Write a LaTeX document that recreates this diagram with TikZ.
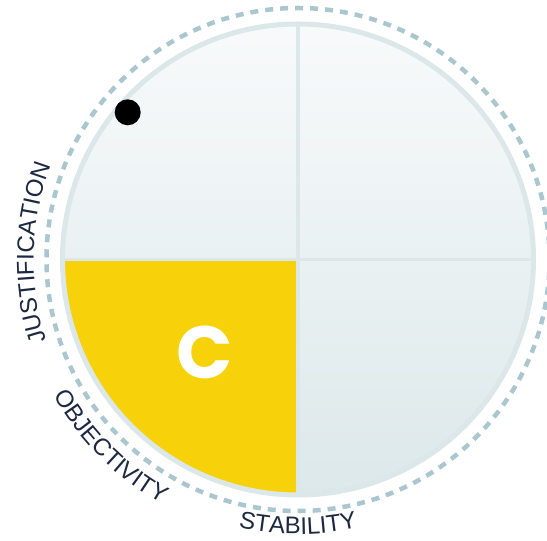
\documentclass[tikz,border=0pt]{standalone}
\usepackage{fontspec}
\setmainfont{Liberation Sans}
\newfontfamily\gradefont{Poppins}
\usetikzlibrary{calc,decorations.text}

\definecolor{ink}{RGB}{28,40,66}
\definecolor{ringline}{RGB}{219,231,233}
\definecolor{dashline}{RGB}{170,199,207}
\definecolor{quadtop}{RGB}{248,250,251}
\definecolor{quadbot}{RGB}{220,232,234}
\definecolor{sunny}{RGB}{247,209,10}

\begin{document}
\begin{tikzpicture}[
x=1pt, y=1pt,
divider/.style={
  draw=ringline,
  line width=3.5pt
  },
rim/.style={
  draw=ringline,
  line width=5pt
  },
orbit/.style={
  draw=dashline,
  line width=4.5pt,
  dash pattern=on 8pt off 7pt
  },
arclabel/.style={
  decorate,
  decoration={
    text along path,
    text={|\fontsize{24}{24}\selectfont\color{ink}|#1},
    text align=center
    }
  }
]
\useasboundingbox (0,0) rectangle (547,541);
\coordinate (c) at (298,281.5);

% background of the four quadrants
\begin{scope}
\clip (c) circle[radius=235];
\shade[top color=quadtop, bottom color=quadbot] ($(c)+(-240,-240)$) rectangle ($(c)+(240,240)$);
\draw[divider] ($(c)+(-240,0)$) -- ($(c)+(240,0)$);
\draw[divider] ($(c)+(0,-240)$) -- ($(c)+(0,240)$);
\fill[sunny] ($(c)+(-2,-2)$) rectangle ($(c)+(-240,-240)$);
\end{scope}

\draw[rim] (c) circle[radius=235.5];
\draw[orbit] (c) circle[radius=251.5];

% labels round the ring
\path[arclabel=JUSTIFICATION] (c) ++(208.5:264.4) arc[start angle=208.5, end angle=148.5, radius=264.4];
\path[arclabel=OBJECTIVITY] (c) ++(195:279.6) arc[start angle=195, end angle=255, radius=279.6];
\path[arclabel=STABILITY] (c) ++(240:274.6) arc[start angle=240, end angle=300, radius=274.6];

\fill (127.7,428.7) circle[radius=13] node (dot) {};
\node[text=white, font=\gradefont\bfseries\fontsize{74}{74}\selectfont] (grade) at (205,188.5) {C};
\end{tikzpicture}
\end{document}
